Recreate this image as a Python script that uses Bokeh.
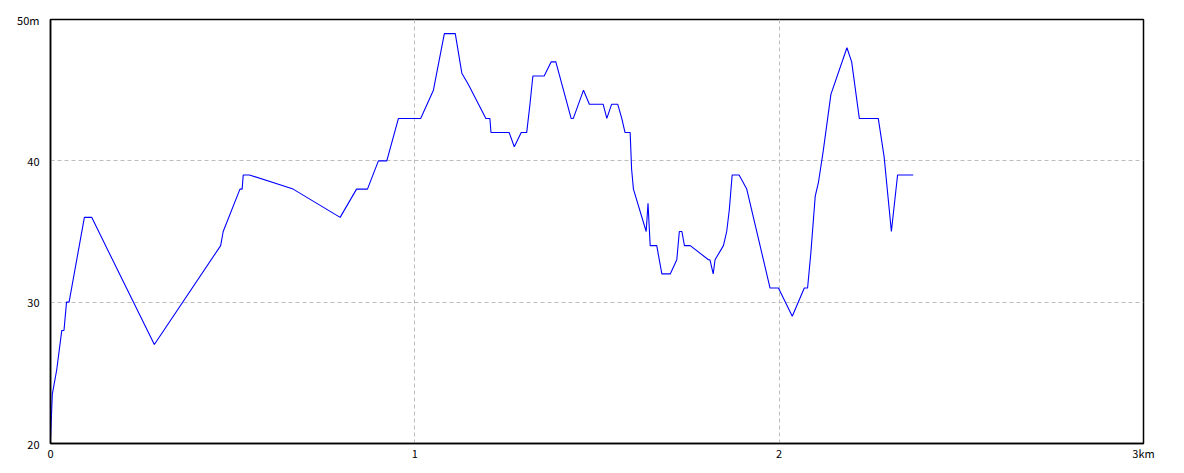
from bokeh.plotting import figure
from bokeh.models import FixedTicker, Range1d
from bokeh.embed import file_html
from bokeh.resources import INLINE

distance_km = [0.000, 0.005, 0.017, 0.031, 0.037, 0.044, 0.051, 0.093, 0.113, 0.285,
               0.467, 0.474, 0.520, 0.526, 0.529, 0.546, 0.666, 0.795, 0.840, 0.870,
               0.900, 0.923, 0.955, 1.016, 1.051, 1.081, 1.111, 1.129, 1.147, 1.195,
               1.206, 1.209, 1.259, 1.273, 1.292, 1.307, 1.316, 1.324, 1.355, 1.374,
               1.387, 1.429, 1.435, 1.463, 1.479, 1.517, 1.527, 1.540, 1.557, 1.568,
               1.577, 1.591, 1.595, 1.600, 1.635, 1.640, 1.643, 1.646, 1.664, 1.678,
               1.701, 1.719, 1.726, 1.733, 1.740, 1.756, 1.806, 1.810, 1.819, 1.824,
               1.847, 1.856, 1.863, 1.871, 1.890, 1.911, 1.975, 1.998, 2.036, 2.069,
               2.078, 2.087, 2.099, 2.108, 2.121, 2.142, 2.186, 2.199, 2.220, 2.272,
               2.288, 2.308, 2.325, 2.368]
elevation_m = [20.3, 23.5, 25.2, 28.0, 28.0, 30.0, 30.0, 36.0, 36.0, 27.0,
               34.0, 35.0, 38.0, 38.0, 39.0, 39.0, 38.0, 36.0, 38.0, 38.0,
               40.0, 40.0, 43.0, 43.0, 45.0, 49.0, 49.0, 46.2, 45.4, 43.0,
               43.0, 42.0, 42.0, 41.0, 42.0, 42.0, 44.0, 46.0, 46.0, 47.0,
               47.0, 43.0, 43.0, 45.0, 44.0, 44.0, 43.0, 44.0, 44.0, 43.0,
               42.0, 42.0, 39.4, 38.0, 35.0, 37.0, 35.5, 34.0, 34.0, 32.0,
               32.0, 33.0, 35.0, 35.0, 34.0, 34.0, 33.0, 33.0, 32.0, 33.0,
               34.0, 35.0, 36.5, 39.0, 39.0, 38.0, 31.0, 31.0, 29.0, 31.0,
               31.0, 33.5, 37.5, 38.5, 40.7, 44.7, 48.0, 47.0, 43.0, 43.0,
               40.3, 35.0, 39.0, 39.0]

x_ticks = [0, 1, 2, 3]
x_tick_labels = {3: "3km"}
y_ticks = [20, 30, 40, 50]
y_tick_labels = {50: "50m"}

FONT = "Noto Sans CJK JP"

p = figure(width=1176, height=465, output_backend="svg", toolbar_location=None,
           x_range=Range1d(0, 3), y_range=Range1d(20, 50),
           min_border_left=50, min_border_right=33, min_border_top=19, min_border_bottom=22)
p.frame_width = 1093
p.frame_height = 424

p.line(distance_km, elevation_m, line_color="#0000ff", line_width=1.1)

p.outline_line_color = "black"
p.outline_line_width = 1.5
p.outline_line_alpha = 1.0

for ax in (p.xaxis[0], p.yaxis[0]):
    ax.axis_line_color = "black"
    ax.axis_line_width = 1.5
    ax.major_tick_line_color = None
    ax.minor_tick_line_color = None
    ax.major_label_text_font = FONT
    ax.major_label_text_font_size = "11px"
    ax.major_label_text_color = "black"

p.xaxis[0].ticker = FixedTicker(ticks=x_ticks)
p.xaxis[0].major_label_overrides = x_tick_labels
p.xaxis[0].major_label_standoff = -5
p.yaxis[0].ticker = FixedTicker(ticks=y_ticks)
p.yaxis[0].major_label_overrides = y_tick_labels
p.yaxis[0].major_label_standoff = 5

for g in (p.xgrid[0], p.ygrid[0]):
    g.grid_line_color = "#bdbdbd"
    g.grid_line_dash = "4 3"
    g.grid_line_width = 1

p.background_fill_color = "white"
p.border_fill_color = "white"

open("out.html", "w").write(file_html(p, INLINE))
